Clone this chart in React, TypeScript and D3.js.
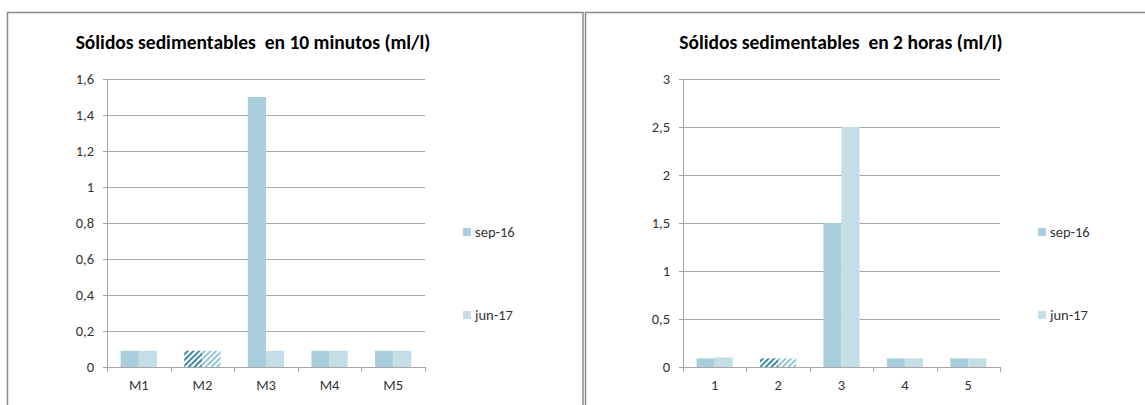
import React from "react";
import * as d3 from "d3";

// Series and categories for both panels
const seriesNames = ["sep-16", "jun-17"];
const seriesColors = ["#a9cfdc", "#c4dee7"];
const hatchColors = ["#3d8aa6", "#92c6d8"];

const minutesCategories = ["M1", "M2", "M3", "M4", "M5"];
const minutesSep16 = [0.09, 0.09, 1.5, 0.09, 0.09];
const minutesJun17 = [0.09, 0.09, 0.09, 0.09, 0.09];
const minutesTicks = [0, 0.2, 0.4, 0.6, 0.8, 1, 1.2, 1.4, 1.6];

const hoursCategories = ["1", "2", "3", "4", "5"];
const hoursSep16 = [0.09, 0.09, 1.5, 0.09, 0.09];
const hoursJun17 = [0.1, 0.09, 2.5, 0.09, 0.09];
const hoursTicks = [0, 0.5, 1, 1.5, 2, 2.5, 3];

// Category drawn with a hatched fill (second sampling point)
const hatchedCategoryIndex = [1];

const esLocale = d3.formatLocale({
  decimal: ",",
  thousands: ".",
  grouping: [3],
  currency: ["", " €"],
});
const fmt = (v: number) => esLocale.format("~g")(v);

const FONT = "Carlito, Calibri, Lato, 'Open Sans', sans-serif";

type PanelProps = {
  id: string;
  title: string;
  titleX: number;
  categories: string[];
  values: number[][];
  ticks: number[];
  frame: { x: number; y: number; w: number; h: number };
  plot: { x0: number; x1: number; y0: number; y1: number };
  legendX: number;
};

function Panel({ id, title, titleX, categories, values, ticks, frame, plot, legendX }: PanelProps) {
  const x = d3.scaleBand<string>().domain(categories).range([plot.x0, plot.x1]).padding(0);
  const inner = d3
    .scaleBand<number>()
    .domain(values.map((_, i) => i))
    .range([0, x.bandwidth()])
    .paddingInner(0)
    .paddingOuter(0.75);
  const y = d3
    .scaleLinear()
    .domain([0, ticks[ticks.length - 1]])
    .range([plot.y1, plot.y0]);

  const boundaries = [...categories.map((c) => x(c) as number), plot.x1];

  return (
    <g>
      <defs>
        {hatchColors.map((c, s) => (
          <pattern
            key={s}
            id={`${id}-hatch-${s}`}
            patternUnits="userSpaceOnUse"
            width={4}
            height={4}
            patternTransform="rotate(45)"
          >
            <rect width={4} height={4} fill="#ffffff" />
            <rect width={2} height={4} fill={c} />
          </pattern>
        ))}
      </defs>
      <rect
        x={frame.x}
        y={frame.y}
        width={frame.w}
        height={frame.h}
        fill="#ffffff"
        stroke="#8a8a8a"
        strokeWidth={1.5}
      />
      <text
        x={titleX}
        y={49}
        textAnchor="middle"
        fontFamily={FONT}
        fontWeight="bold"
        fontSize={19.5}
        fill="#000"
        style={{ whiteSpace: "pre" }}
      >
        {title}
      </text>

      {/* gridlines */}
      {ticks
        .filter((t) => t > 0)
        .map((t) => (
          <line
            key={t}
            x1={plot.x0}
            x2={plot.x1}
            y1={Math.round(y(t)) + 0.5}
            y2={Math.round(y(t)) + 0.5}
            stroke="#a6a6a6"
            strokeWidth={1}
          />
        ))}

      {/* bars */}
      {values.map((series, s) =>
        series.map((v, i) => {
          const c = categories[i];
          const bx = (x(c) as number) + (inner(s) as number);
          const hatched = hatchedCategoryIndex.includes(i);
          return (
            <rect
              key={`${s}-${i}`}
              x={bx}
              y={y(v)}
              width={inner.bandwidth()}
              height={y(0) - y(v)}
              fill={hatched ? `url(#${id}-hatch-${s})` : seriesColors[s]}
            />
          );
        })
      )}

      {/* y axis */}
      <line x1={plot.x0 + 0.5} x2={plot.x0 + 0.5} y1={plot.y0} y2={plot.y1} stroke="#a6a6a6" />
      {ticks.map((t) => (
        <g key={t}>
          <line
            x1={plot.x0 - 4}
            x2={plot.x0}
            y1={Math.round(y(t)) + 0.5}
            y2={Math.round(y(t)) + 0.5}
            stroke="#a6a6a6"
          />
          <text
            x={plot.x0 - 13}
            y={y(t)}
            dy="0.35em"
            textAnchor="end"
            fontFamily={FONT}
            fontSize={14.5}
            fill="#333333"
          >
            {fmt(t)}
          </text>
        </g>
      ))}

      {/* x axis */}
      <line
        x1={plot.x0}
        x2={plot.x1}
        y1={Math.round(plot.y1) + 0.5}
        y2={Math.round(plot.y1) + 0.5}
        stroke="#a6a6a6"
      />
      {boundaries.map((b, i) => (
        <line
          key={i}
          x1={Math.round(b) + 0.5}
          x2={Math.round(b) + 0.5}
          y1={plot.y1}
          y2={plot.y1 + 5}
          stroke="#a6a6a6"
        />
      ))}
      {categories.map((c) => (
        <text
          key={c}
          x={(x(c) as number) + x.bandwidth() / 2}
          y={390}
          textAnchor="middle"
          fontFamily={FONT}
          fontSize={14.5}
          fill="#333333"
        >
          {c}
        </text>
      ))}

      {/* legend */}
      {seriesNames.map((name, s) => (
        <g key={name} transform={`translate(${legendX},${228 + s * 83})`}>
          <rect width={8} height={8} fill={seriesColors[s]} />
          <text x={12} y={8.5} fontFamily={FONT} fontSize={14.5} fill="#333333">
            {name}
          </text>
        </g>
      ))}
    </g>
  );
}

export default function App() {
  return (
    <svg
      width={1145}
      height={405}
      style={{ position: "absolute", left: 0, top: 0, background: "#fff" }}
    >
      <Panel
        id="min"
        title="Sólidos sedimentables  en 10 minutos (ml/l)"
        titleX={253}
        categories={minutesCategories}
        values={[minutesSep16, minutesJun17]}
        ticks={minutesTicks}
        frame={{ x: 7.5, y: 12.5, w: 575.5, h: 420 }}
        plot={{ x0: 107, x1: 425, y0: 79, y1: 367 }}
        legendX={463}
      />
      <Panel
        id="hrs"
        title="Sólidos sedimentables  en 2 horas (ml/l)"
        titleX={841}
        categories={hoursCategories}
        values={[hoursSep16, hoursJun17]}
        ticks={hoursTicks}
        frame={{ x: 585.5, y: 12.5, w: 600, h: 420 }}
        plot={{ x0: 683, x1: 1000, y0: 79, y1: 367 }}
        legendX={1038}
      />
    </svg>
  );
}
